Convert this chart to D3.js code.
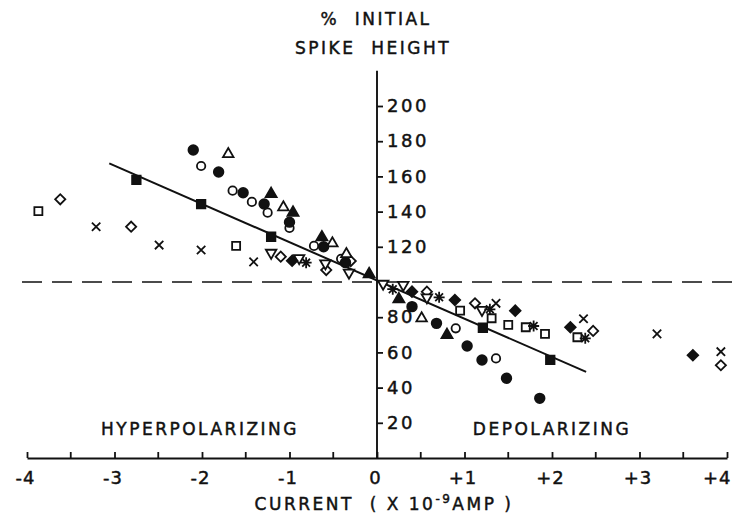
<!DOCTYPE html>
<html>
<head>
<meta charset="utf-8">
<script src="https://cdn.jsdelivr.net/npm/d3@7"></script>
<style>
  html, body { margin: 0; padding: 0; background: #fff; }
  svg text { font-family: "DejaVu Sans", sans-serif; fill: #111; stroke: #111; stroke-width: 0.45px; }
</style>
</head>
<body>
<div id="chart"></div>
<script>
// data: [current (x10^-9 A), % initial spike height]
const filledCircles = [[-2.10,175],[-1.81,162.5],[-1.53,150.7],[-1.29,144.3],[-1.00,134],[-0.61,120],[-0.36,111],[0.40,86],[0.68,76.5],[1.03,63.6],[1.20,55.7],[1.48,45.3],[1.86,33.9]];
const openCircles = [[-2.01,165.9],[-1.65,151.9],[-1.43,145.5],[-1.25,139.4],[-1.00,130.7],[-0.72,120.5],[-0.41,113.2],[0.90,73.7],[1.36,56.6]];
const filledTriangles = [[-1.21,150],[-0.96,139.4],[-0.63,125.4],[-0.09,104.5],[0.25,90.2],[0.80,69.9]];
const openTriangles = [[-1.70,172.7],[-1.07,142.4],[-0.51,122],[-0.35,115.9],[0.51,79.4]];
const openDownTriangles = [[-1.21,116.6],[-0.89,113.6],[-0.59,110.6],[-0.32,105.3],[0.07,99],[0.30,98.3],[0.57,91.3],[1.20,84.1]];
const filledSquares = [[-2.75,158],[-2.01,144.3],[-1.21,125.7],[1.21,74],[1.98,55.7]];
const openSquares = [[-3.87,140.3],[-1.61,120.5],[0.95,83.7],[1.31,79.4],[1.50,75.6],[1.70,74.3],[1.92,70.5],[2.29,68.6]];
const filledDiamonds = [[-0.97,112.1],[0.40,94.5],[0.89,89.8],[1.58,83.7],[2.21,74.3],[3.61,58.4]];
const openDiamonds = [[-3.62,147],[-2.81,131.4],[-1.10,114.4],[-0.58,106.8],[-0.30,111.9],[0.57,94.5],[1.12,87.9],[2.47,72.2],[3.93,52.7]];
const crosses = [[-3.21,131.4],[-2.49,121],[-2.01,118.2],[-1.41,111.4],[1.36,87.9],[2.36,79.1],[3.20,70.5],[3.93,60.4]];
const asterisks = [[-0.81,111],[0.18,95.9],[0.71,91.3],[1.29,84.5],[1.79,75],[2.38,68]];

const fitLine = [[-3.06,167.4],[2.39,48.9]];
const baseline = 100;

const xTickValues = [-4,-3,-2,-1,0,1,2,3,4];
const xTickLabels = ["-4","-3","-2","-1","0","+1","+2","+3","+4"];
const xMinorTicks = [-3.5,-2.5,-1.5,-0.5,0.5,1.5,2.5,3.5];
const yTickValues = [20,40,60,80,120,140,160,180,200];
const yTickLabels = ["20","40","60","80","120","140","160","180","200"];

const width = 732, height = 513;
const ink = "#111";

const svg = d3.select("#chart").append("svg")
    .attr("width", width)
    .attr("height", height);

const x = d3.scaleLinear().domain([-4, 4]).range([27, 727]);
const y = d3.scaleLinear().domain([0, 200]).range([458, 106]);

// dashed 100% line
svg.append("line")
    .attr("x1", 22).attr("x2", width)
    .attr("y1", y(baseline)).attr("y2", y(baseline))
    .attr("stroke", ink)
    .attr("stroke-width", 1.7)
    .attr("stroke-dasharray", "20,10");

// x axis: all ticks point up, labels only on whole units
const xAxis = d3.axisBottom(x)
    .tickValues(xTickValues)
    .tickSizeInner(-6)
    .tickSizeOuter(0)
    .tickPadding(13)
    .tickFormat((d, i) => xTickLabels[i]);

const xAxisG = svg.append("g")
    .attr("transform", `translate(0,${y(0)})`)
    .call(xAxis);
xAxisG.select(".domain").attr("stroke", ink).attr("stroke-width", 1.8);
xAxisG.selectAll(".tick line").attr("stroke", ink).attr("stroke-width", 1.8);
xAxisG.selectAll(".tick text")
    .attr("fill", ink)
    .style("font-family", "DejaVu Sans")
    .style("font-size", "18px")
    .style("letter-spacing", "1px")
    .attr("dx", "-2");

// last label sits at the page edge: keep it inside
xAxisG.selectAll(".tick text")
    .filter(d => d === xTickValues[xTickValues.length - 1])
    .attr("text-anchor", "end")
    .attr("dx", width - 1 - x(xTickValues[xTickValues.length - 1]));

xAxisG.selectAll(".minor")
    .data(xMinorTicks)
    .join("line")
    .attr("class", "minor")
    .attr("x1", d => x(d)).attr("x2", d => x(d))
    .attr("y1", 0).attr("y2", -6)
    .attr("stroke", ink).attr("stroke-width", 1.8);

// y axis through zero current
svg.append("line")
    .attr("x1", x(0)).attr("x2", x(0))
    .attr("y1", y(0)).attr("y2", y(220))
    .attr("stroke", ink).attr("stroke-width", 1.9);

const yAxis = d3.axisRight(y)
    .tickValues(yTickValues)
    .tickSize(6)
    .tickPadding(4)
    .tickFormat((d, i) => yTickLabels[i]);

const yAxisG = svg.append("g")
    .attr("transform", `translate(${x(0)},0)`)
    .call(yAxis);
yAxisG.select(".domain").remove();
yAxisG.selectAll(".tick line").attr("stroke", ink).attr("stroke-width", 1.8);
yAxisG.selectAll(".tick text")
    .attr("fill", ink)
    .style("font-family", "DejaVu Sans")
    .style("font-size", "18px")
    .style("letter-spacing", "2.5px");

// titles
const labelStyle = sel => sel
    .style("font-size", "17px")
    .style("letter-spacing", "2.5px");

svg.append("text")
    .attr("x", 376).attr("y", 25)
    .attr("text-anchor", "middle")
    .call(labelStyle)
    .style("white-space", "pre")
    .text("%  INITIAL");

svg.append("text")
    .attr("x", 373).attr("y", 54)
    .attr("text-anchor", "middle")
    .call(labelStyle)
    .style("white-space", "pre")
    .text("SPIKE  HEIGHT");

svg.append("text")
    .attr("x", 200).attr("y", 435)
    .attr("text-anchor", "middle")
    .call(labelStyle)
    .text("HYPERPOLARIZING");

svg.append("text")
    .attr("x", 552).attr("y", 435)
    .attr("text-anchor", "middle")
    .call(labelStyle)
    .text("DEPOLARIZING");

const xTitle = svg.append("text")
    .attr("x", 384).attr("y", 510)
    .attr("text-anchor", "middle")
    .call(labelStyle)
    .style("white-space", "pre");
xTitle.append("tspan").text("CURRENT  ( X 10");
xTitle.append("tspan").attr("dy", -7).style("font-size", "12px").text("-9");
xTitle.append("tspan").attr("dy", 7).text("AMP )");

// regression line
svg.append("path")
    .datum(fitLine)
    .attr("fill", "none")
    .attr("stroke", ink)
    .attr("stroke-width", 2)
    .attr("d", d3.line().x(d => x(d[0])).y(d => y(d[1])));

// marker shapes
const shapes = {
    circle: r => d3.symbol(d3.symbolCircle, Math.PI * r * r)(),
    square: s => d3.symbol(d3.symbolSquare, s * s)(),
    triangle: s => d3.symbol(d3.symbolTriangle, s * s * Math.sqrt(3) / 4)(),
    cross: r => `M${-r},${-r}L${r},${r}M${-r},${r}L${r},${-r}`,
    asterisk: r => {
        const d = r * Math.SQRT1_2;
        return `M0,${-r}L0,${r}M${-r},0L${r},0M${-d},${-d}L${d},${d}M${-d},${d}L${d},${-d}`;
    }
};

function drawSeries(data, path, filled, rotate) {
    svg.append("g")
        .selectAll("path")
        .data(data)
        .join("path")
        .attr("transform", d => `translate(${x(d[0])},${y(d[1])})${rotate ? ` rotate(${rotate})` : ""}`)
        .attr("d", path)
        .attr("fill", filled ? ink : "#fff")
        .attr("stroke", ink)
        .attr("stroke-width", 1.8);
}

drawSeries(openCircles, shapes.circle(4.2), false);
drawSeries(openSquares, shapes.square(8), false);
drawSeries(openDiamonds, shapes.square(7.2), false, 45);
drawSeries(openTriangles, shapes.triangle(10.5), false);
drawSeries(openDownTriangles, shapes.triangle(10.5), false, 180);
drawSeries(crosses, shapes.cross(4.2), false);
drawSeries(asterisks, shapes.asterisk(5.5), false);
drawSeries(filledCircles, shapes.circle(4.8), true);
drawSeries(filledSquares, shapes.square(8.5), true);
drawSeries(filledDiamonds, shapes.square(7.5), true, 45);
drawSeries(filledTriangles, shapes.triangle(11), true);
</script>
</body>
</html>
